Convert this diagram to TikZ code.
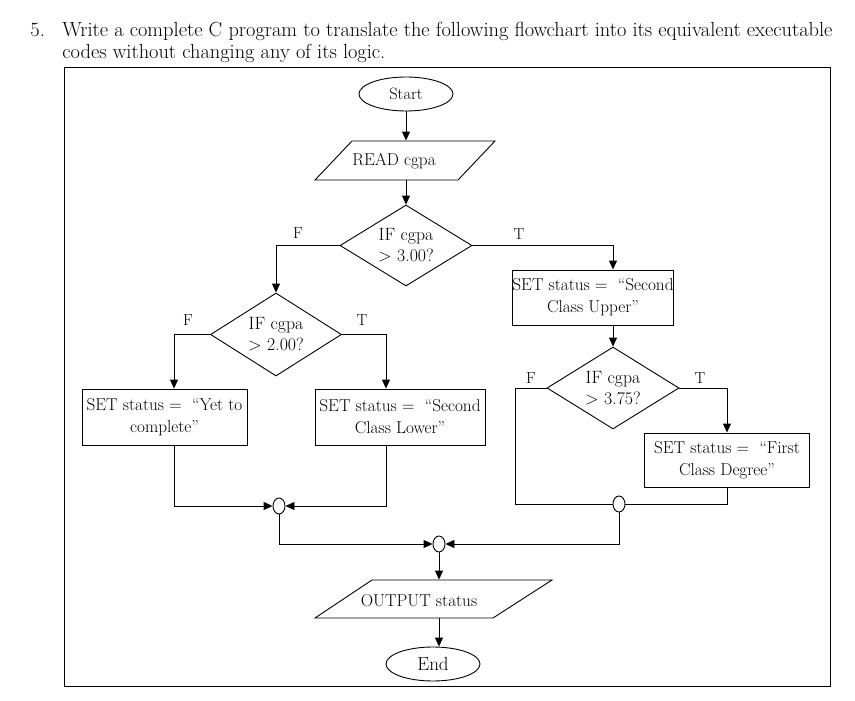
\documentclass[tikz,border=0pt]{standalone}
\usepackage{fontspec}
\usetikzlibrary{shapes.geometric,arrows.meta}
\begin{document}
\begin{tikzpicture}[x=1pt,y=-1pt,line width=0.9pt,
  arr/.style={-{Triangle[length=9pt,width=8pt]}},
  boxtxt/.style={font=\fontsize{17.2}{22}\selectfont},
  proc/.style={draw,rectangle,inner sep=0pt,align=center,boxtxt},
  dec/.style={draw,diamond,aspect=1.6,inner sep=0pt,align=center,font=\fontsize{17.8}{21}\selectfont},
  term/.style={draw,ellipse,inner sep=0pt,minimum width=94pt,minimum height=34pt},
  junc/.style={draw,ellipse,minimum width=12pt,minimum height=16pt,inner sep=0pt},
  io/.style={rectangle,inner sep=0pt,minimum width=140pt},
  lbl/.style={font=\fontsize{16}{18}\selectfont,inner sep=0pt},
  head/.style={font=\fontsize{20.4}{24}\selectfont,anchor=base west,inner sep=0pt}]
\useasboundingbox (0,0) rectangle (855,701);
% header
\node[head] (num) at (30,37) {5.};
\node[head] (h1) at (62,37) {Write a complete C program to translate the following flowchart into its equivalent executable};
\node[head] (h2) at (62,59) {codes without changing any of its logic.};
% frame
\draw[line width=0.9pt] (64,67) rectangle (830,686);
% nodes
\node[term,font=\fontsize{16.4}{18}\selectfont] (start) at (406,94) {Start};
\node[io,minimum height=39pt] (read) at (406,160.5) {};
\draw (315,180) -- (352,141) -- (495,141) -- (458,180) -- cycle;
\node[boxtxt] (readt) at (394,161) {READ cgpa};
\node[dec,minimum width=132pt,minimum height=81pt] (d1) at (406,245.5) {IF cgpa\\> 3.00?};
\node[proc,minimum width=160pt,minimum height=55pt] (upper) at (593,297.5) {SET status =~ “Second\\Class Upper”};
\node[dec,minimum width=132pt,minimum height=82pt] (d3) at (613,388) {IF cgpa\\> 3.75?};
\node[proc,minimum width=165pt,minimum height=54pt] (fd) at (727,460) {SET status =~ “First\\Class Degree”};
\node[dec,minimum width=131pt,minimum height=83pt] (d2) at (276,334.5) {IF cgpa\\> 2.00?};
\node[proc,minimum width=165pt,minimum height=56pt] (yb) at (164.5,417) {SET status =~ “Yet to\\complete”};
\node[proc,minimum width=170pt,minimum height=56pt] (lb) at (400,417) {SET status =~ “Second\\Class Lower”};
\node[junc] (c1) at (279,506) {};
\node[junc] (c3) at (619,504) {};
\node[junc] (c2) at (439,544) {};
\node[io,minimum height=38pt] (out) at (433.5,599) {};
\draw (315,618) -- (372,580) -- (552,580) -- (493,618) -- cycle;
\node[boxtxt] (outt) at (419,601) {OUTPUT status};
\node[term,font=\fontsize{19}{20}\selectfont] (end) at (433,664) {End};
% labels
\node[lbl] (lf1) at (298,233) {F};
\node[lbl] (lt1) at (519,234) {T};
\node[lbl] (lf2) at (188,320) {F};
\node[lbl] (lt2) at (362,320) {T};
\node[lbl] (lf3) at (531,378) {F};
\node[lbl] (lt3) at (700,378) {T};
% connectors
\draw[arr] (start) -- (read.north);
\draw[arr] (read.south) -- (d1.north);
\draw[arr] (d1.west) -| (d2.north);
\draw[arr] (d1.east) -| ([xshift=20pt]upper.north);
\draw[arr] ([xshift=20pt]upper.south) -- (d3.north);
\draw (d3.west) -- ++(-31,0) |- (c3.west);
\draw[arr] (d3.east) -| (fd.north);
\draw (fd.south) |- (c3.east);
\draw[arr] (c3.south) |- (c2.east);
\draw[arr] (d2.west) -| ([xshift=9.5pt]yb.north);
\draw[arr] (d2.east) -| ([xshift=-14pt]lb.north);
\draw[arr] ([xshift=9.5pt]yb.south) |- (c1.west);
\draw[arr] ([xshift=-14pt]lb.south) |- (c1.east);
\draw[arr] (c1.south) |- (c2.west);
\draw[arr] (c2.south) -- (c2.south |- out.north);
\draw[arr] (c2 |- out.south) -- (c2 |- end.north);
\end{tikzpicture}
\end{document}
